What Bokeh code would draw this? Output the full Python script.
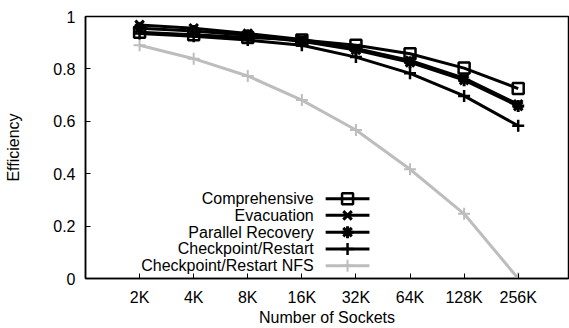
from bokeh.plotting import figure
from bokeh.models import FixedTicker, Range1d
from bokeh.core.properties import value
from bokeh.embed import file_html
from bokeh.resources import INLINE

categories = ["2K", "4K", "8K", "16K", "32K", "64K", "128K", "256K"]
comprehensive = [0.940, 0.930, 0.920, 0.910, 0.890, 0.858, 0.803, 0.725]
evacuation = [0.968, 0.955, 0.935, 0.912, 0.878, 0.832, 0.765, 0.665]
parallel = [0.955, 0.945, 0.928, 0.905, 0.872, 0.825, 0.757, 0.658]
checkpoint = [0.935, 0.925, 0.910, 0.890, 0.845, 0.783, 0.697, 0.583]
checkpoint_nfs = [0.890, 0.839, 0.773, 0.681, 0.567, 0.417, 0.247, 0.000]
y_ticks = [0, 0.2, 0.4, 0.6, 0.8, 1.0]
y_tick_labels = ["0", "0.2", "0.4", "0.6", "0.8", "1"]
series_names = ["Comprehensive", "Evacuation", "Parallel Recovery",
                "Checkpoint/Restart", "Checkpoint/Restart NFS"]

xs = list(range(len(categories)))
FONT = "Liberation Sans"
BLACK = "#000000"
GRAY = "#bdbdbd"

p = figure(width=569, height=328, output_backend="svg", toolbar_location=None,
           x_range=Range1d(-1, 7.93), y_range=Range1d(0, 1),
           min_border_left=85, min_border_right=1, min_border_top=16,
           min_border_bottom=49)
p.grid.visible = False
p.outline_line_color = BLACK
p.outline_line_width = 1.5
p.background_fill_color = "white"
p.border_fill_color = "white"

for ax in (p.xaxis[0], p.yaxis[0]):
    ax.major_tick_in = 5
    ax.major_tick_out = 0
    ax.minor_tick_in = 0
    ax.minor_tick_out = 0
    ax.axis_line_color = BLACK
    ax.axis_line_width = 1.5
    ax.major_tick_line_width = 1
    ax.major_label_text_font = FONT
    ax.major_label_text_font_size = "16px"
    ax.major_label_text_color = BLACK
    ax.axis_label_text_font = FONT
    ax.axis_label_text_font_size = "16px"
    ax.axis_label_text_font_style = "normal"
    ax.axis_label_text_color = BLACK

p.xaxis.ticker = FixedTicker(ticks=xs)
p.xaxis.major_label_overrides = {i: c for i, c in enumerate(categories)}
p.xaxis.axis_label = "Number of Sockets"
p.xaxis.major_label_standoff = 10
p.xaxis.axis_label_standoff = 0

p.yaxis.ticker = FixedTicker(ticks=y_ticks)
p.yaxis.major_label_overrides = {t: l for t, l in zip(y_ticks, y_tick_labels)}
p.yaxis.axis_label = "Efficiency"
p.yaxis.major_label_standoff = 10
p.yaxis.axis_label_standoff = 28

LW = 3

# Checkpoint/Restart NFS (gray, +)
p.line(xs, checkpoint_nfs, line_color=GRAY, line_width=LW)
p.scatter(xs, checkpoint_nfs, marker="cross", size=12, line_color=GRAY, line_width=2)
# Checkpoint/Restart (+)
p.line(xs, checkpoint, line_color=BLACK, line_width=LW)
p.scatter(xs, checkpoint, marker="cross", size=12, line_color=BLACK, line_width=2.5)
# Parallel Recovery (*)
p.line(xs, parallel, line_color=BLACK, line_width=LW)
p.scatter(xs, parallel, marker="x", size=12, line_color=BLACK, line_width=3)
p.scatter(xs, parallel, marker="cross", size=12, line_color=BLACK, line_width=3)
# Evacuation (x)
p.line(xs, evacuation, line_color=BLACK, line_width=LW)
p.scatter(xs, evacuation, marker="x", size=12, line_color=BLACK, line_width=3)
# Comprehensive (open square)
p.line(xs, comprehensive, line_color=BLACK, line_width=LW)
p.scatter(xs, comprehensive, marker="square", size=11, line_color=BLACK,
          fill_color=None, line_width=2.5)

# Legend (drawn manually, gnuplot style: text right, sample on right)
leg_y = [0.304, 0.241, 0.177, 0.113, 0.049]
text_x = 3.22
seg_x0, seg_x1, mk_x = 3.44, 4.25, 3.845
p.text([text_x] * 5, leg_y, text=series_names, text_align="right",
       text_baseline="middle", text_font=value(FONT), text_font_size="16px",
       text_color=BLACK)
colors = [BLACK, BLACK, BLACK, BLACK, GRAY]
p.segment([seg_x0] * 5, leg_y, [seg_x1] * 5, leg_y, line_color=colors, line_width=LW)
p.scatter([mk_x], [leg_y[0]], marker="square", size=11, line_color=BLACK,
          fill_color=None, line_width=2.5)
p.scatter([mk_x], [leg_y[1]], marker="x", size=12, line_color=BLACK, line_width=3)
p.scatter([mk_x], [leg_y[2]], marker="x", size=12, line_color=BLACK, line_width=3)
p.scatter([mk_x], [leg_y[2]], marker="cross", size=12, line_color=BLACK, line_width=3)
p.scatter([mk_x], [leg_y[3]], marker="cross", size=12, line_color=BLACK, line_width=2.5)
p.scatter([mk_x], [leg_y[4]], marker="cross", size=12, line_color=GRAY, line_width=2)

open("out.html", "w").write(file_html(p, INLINE))
